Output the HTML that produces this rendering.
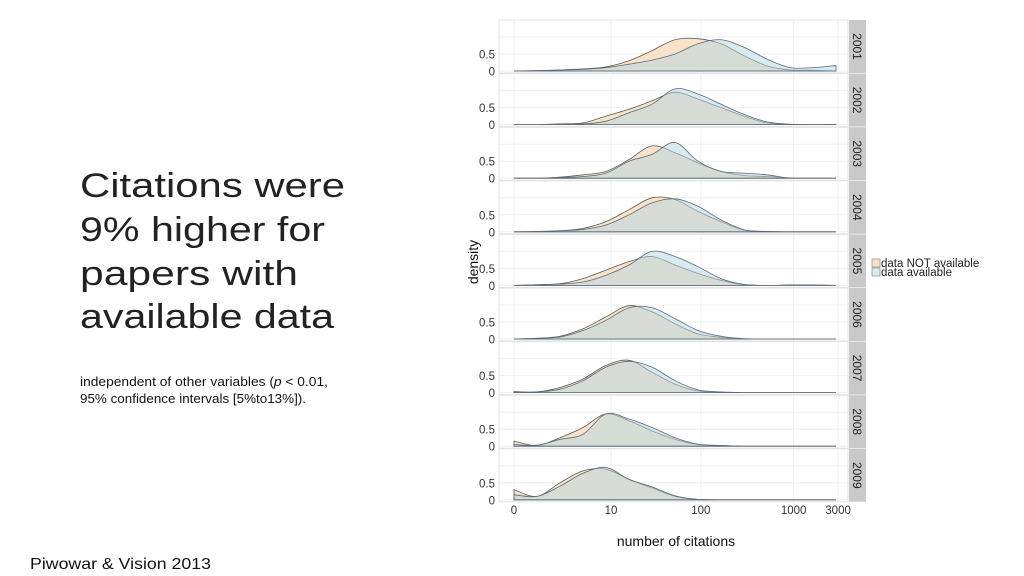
<!DOCTYPE html>
<html><head><meta charset="utf-8"><style>
html,body{margin:0;padding:0;background:#fff;}
svg{display:block;font-family:"Liberation Sans",sans-serif;}
</style></head><body>
<svg id="root" width="1024" height="576" viewBox="0 0 1024 576">
<g>
<text x="80" y="197" font-size="34" fill="#222" textLength="265" lengthAdjust="spacingAndGlyphs">Citations were</text>
<text x="80" y="241" font-size="34" fill="#222" textLength="245" lengthAdjust="spacingAndGlyphs">9% higher for</text>
<text x="80" y="285" font-size="34" fill="#222" textLength="218" lengthAdjust="spacingAndGlyphs">papers with</text>
<text x="80" y="328" font-size="34" fill="#222" textLength="254" lengthAdjust="spacingAndGlyphs">available data</text>
<text x="80" y="386" font-size="12.5" fill="#111" textLength="248" lengthAdjust="spacingAndGlyphs">independent of other variables (<tspan font-style="italic">p</tspan> &lt; 0.01,</text>
<text x="80" y="403" font-size="12.5" fill="#111" textLength="226" lengthAdjust="spacingAndGlyphs">95% confidence intervals [5%to13%]).</text>
<text x="30" y="569" font-size="16" fill="#111" textLength="181" lengthAdjust="spacingAndGlyphs">Piwowar &amp; Vision 2013</text>
</g>
<g id="chart"></g>
</svg>
<script>
const years = ["2001","2002","2003","2004","2005","2006","2007","2008","2009"];
const gridU = [0,0.25,0.5,0.75,1,1.25,1.5,1.75,2,2.25,2.5,2.75,3,3.25,3.5];
const notAvail = [
 [0,.01,.03,.06,.12,.3,.6,.92,.95,.8,.45,.15,.03,.02,0],
 [0,0,.02,.05,.25,.45,.7,.95,.75,.5,.25,.05,.01,0,0],
 [0,0,.03,.1,.2,.55,.95,.75,.45,.2,.08,.05,.01,0,0],
 [0,.01,.03,.1,.3,.65,1.0,.95,.6,.3,.05,.01,0,0,0],
 [0,.02,.05,.2,.45,.7,.85,.6,.35,.15,.02,0,.01,.01,0],
 [0,.02,.08,.3,.65,.98,.8,.45,.15,.05,0,0,0,0,0],
 [.03,.02,.15,.4,.8,.95,.6,.25,.05,.01,0,0,0,0,0],
 [.15,.02,.25,.55,.95,.75,.45,.2,.05,.02,0,0,0,0,0],
 [.3,.1,.5,.85,.9,.6,.35,.1,.01,0,0,0,0,0,0]
];
const avail = [
 [0,.01,.03,.05,.1,.2,.32,.5,.8,.92,.7,.35,.1,.1,.16],
 [0,0,.01,.02,.1,.35,.6,1.05,.9,.6,.3,.08,.01,0,.01],
 [0,0,.02,.05,.15,.5,.7,1.05,.5,.2,.15,.1,0,0,0],
 [0,.01,.03,.07,.2,.5,.85,.97,.75,.35,.06,.01,0,0,0],
 [0,.02,.04,.1,.3,.6,1.0,.85,.55,.2,.03,0,.01,.01,0],
 [0,.02,.06,.25,.55,.92,.92,.6,.25,.08,.01,0,0,0,0],
 [.01,.02,.1,.35,.75,.92,.75,.35,.08,.02,0,0,0,0,0],
 [.05,.03,.2,.35,.95,.8,.55,.25,.06,.02,0,0,0,0,0],
 [.15,.1,.4,.78,.95,.6,.38,.12,.01,0,0,0,0,0,0]
];
const xTicks = [0,10,100,1000,3000];
const xTickLabels = ["0","10","100","1000","3000"];
const yTicks = [0,0.5];
const yTickLabels = ["0","0.5"];

const NS="http://www.w3.org/2000/svg";
const chart=document.getElementById('chart');
function mk(tag,attrs,parent){const e=document.createElementNS(NS,tag);for(const k in attrs)e.setAttribute(k,attrs[k]);(parent||chart).appendChild(e);return e;}
const panelX0=499, panelX1=848, panelTop0=20, panelH=53, panelStep=53.6;
function xOfU(u){return 514+u*92;}
function xOfC(c){return 514+Math.log10(c+1)*93.2;}
function yOf(i,d){return panelTop0+i*panelStep+51-d*34;}
function pathFor(i,vals){
  const pts=gridU.map((u,k)=>[xOfU(u),yOf(i,vals[k])]);
  const base=yOf(i,0);
  let d="M"+pts[0][0]+","+base+" L"+pts[0][0]+","+pts[0][1];
  for(let k=0;k<pts.length-1;k++){
    const p0=pts[Math.max(k-1,0)],p1=pts[k],p2=pts[k+1],p3=pts[Math.min(k+2,pts.length-1)];
    let c1y=p1[1]+(p2[1]-p0[1])/6, c2y=p2[1]-(p3[1]-p1[1])/6;
    c1y=Math.min(c1y,base); c2y=Math.min(c2y,base);
    d+=" C"+(p1[0]+(p2[0]-p0[0])/6)+","+c1y+" "+(p2[0]-(p3[0]-p1[0])/6)+","+c2y+" "+p2[0]+","+p2[1];
  }
  d+=" L"+pts[pts.length-1][0]+","+base+" Z";
  return d;
}
years.forEach((yr,i)=>{
  const top=panelTop0+i*panelStep;
  const g=mk('g',{});
  
  
  const bg=mk('rect',{x:panelX0,y:top,width:panelX1-panelX0,height:panelH,fill:'#fff',stroke:'#e2e2e2','stroke-width':1},g);
  
  
  xTicks.forEach(t=>{const l=mk('line',{x1:xOfC(t),x2:xOfC(t),y1:top,y2:top+panelH,stroke:'#efefef'},g);
    });
  [0,0.5,1].forEach(t=>{const l=mk('line',{x1:panelX0,x2:panelX1,y1:yOf(i,t),y2:yOf(i,t),stroke:'#efefef'},g);
    });
  const a=mk('path',{d:pathFor(i,notAvail[i]),fill:'#f9e3c8',stroke:'#5a5a5a','stroke-width':0.8},g);
  
  
  const b=mk('path',{d:pathFor(i,avail[i]),fill:'#b3d5e2','fill-opacity':0.5,stroke:'#5a6a78','stroke-width':0.8},g);
  
  
  const s=mk('rect',{x:849,y:top,width:17,height:panelH,fill:'#c9c9c9'},g);
  
  
  const st=mk('text',{x:0,y:0,'font-size':12,fill:'#222','text-anchor':'middle',transform:'translate(853,'+(top+panelH/2)+') rotate(90)'},g);
  st.textContent=yr;
  
  
  yTicks.forEach((t,k)=>{const tx=mk('text',{x:495,y:yOf(i,t)+4.5,'font-size':11.5,fill:'#333','text-anchor':'end'},g);
    tx.textContent=yTickLabels[k];
    
    });
});
xTicks.forEach((t,k)=>{const tx=mk('text',{x:xOfC(t),y:514,'font-size':11.5,fill:'#333','text-anchor':'middle'});
  tx.textContent=xTickLabels[k];
  
  });
const xt=mk('text',{x:676,y:546,'font-size':14,fill:'#111','text-anchor':'middle'});
xt.textContent='number of citations';


const yt=mk('text',{x:0,y:0,'font-size':14,fill:'#111','text-anchor':'middle',transform:'translate(478,262) rotate(-90)'});
yt.textContent='density';


const leg=mk('g',{});


const l1=mk('rect',{x:872,y:259,width:8,height:8,fill:'#f9e3c8',stroke:'#777','stroke-width':0.6},leg);


const l2=mk('rect',{x:872,y:268,width:8,height:8,fill:'#d9eaf3',stroke:'#777','stroke-width':0.6},leg);


const lt1=mk('text',{x:881,y:267,'font-size':11.5,fill:'#222'},leg);
lt1.textContent='data NOT available';


const lt2=mk('text',{x:881,y:276,'font-size':11.5,fill:'#222'},leg);
lt2.textContent='data available';


</script>
</body></html>
